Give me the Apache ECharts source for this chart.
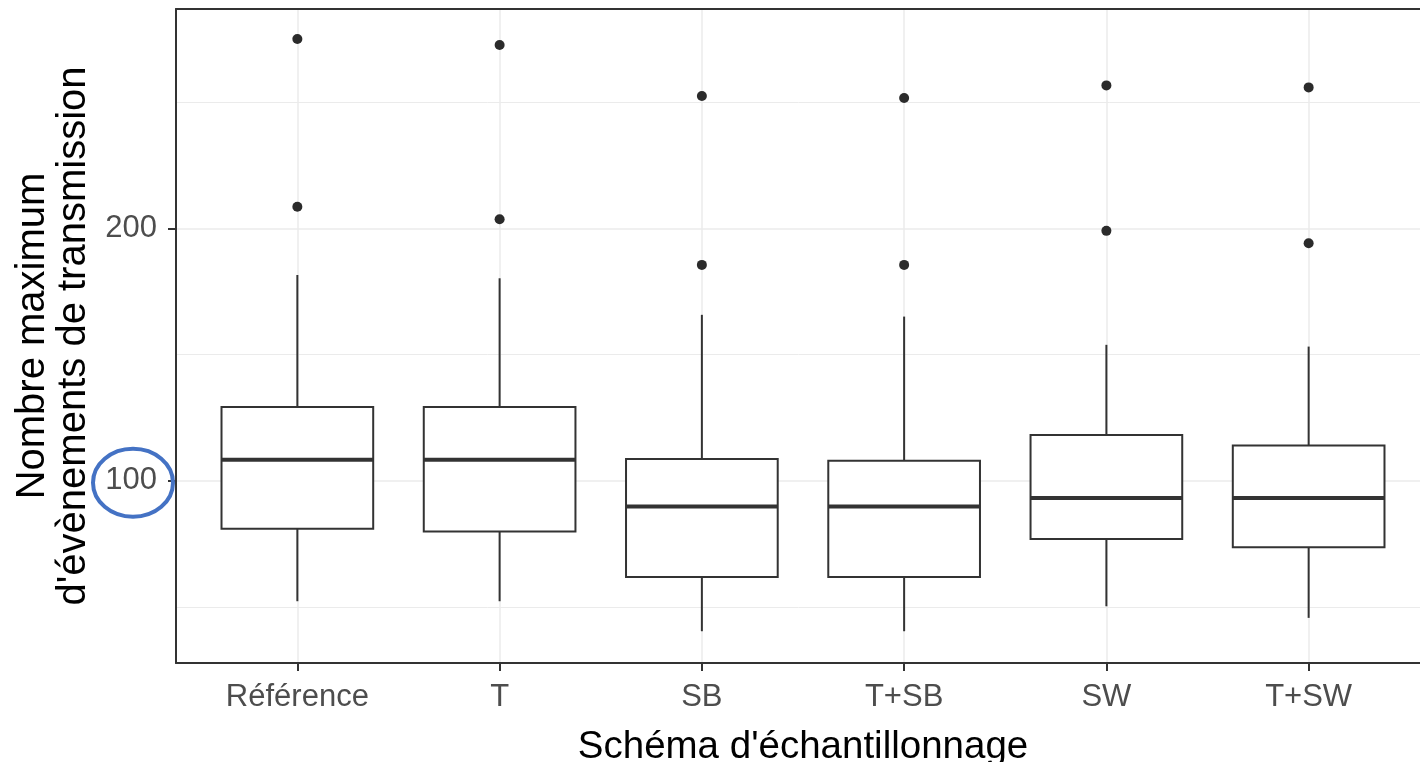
<!DOCTYPE html>
<html><head><meta charset="utf-8">
<script src="https://cdn.jsdelivr.net/npm/echarts@6/dist/echarts.min.js"></script>
<style>html,body{margin:0;padding:0;background:#fff}#c{width:1420px;height:762px}</style>
</head><body><div id="c"></div>
<script>
const categories = ['Référence', 'T', 'SB', 'T+SB', 'SW', 'T+SW'];
const whiskerLow = [52.2, 52.2, 40.3, 40.3, 50.2, 45.6];
const q1 = [80.9, 79.9, 61.8, 61.8, 76.9, 73.6];
const median = [108.3, 108.3, 89.8, 89.8, 93.1, 93.1];
const q3 = [129.2, 129.2, 108.6, 107.9, 118.1, 114.0];
const whiskerHigh = [181.6, 180.3, 165.8, 165.1, 153.9, 153.2];
const outliersMid = [208.7, 203.7, 185.6, 185.6, 199.1, 194.2];
const outliersHigh = [275.2, 272.8, 252.6, 251.8, 256.8, 256.0];
const yTickValues = [100, 200];
const yMinorValues = [50, 150, 250];
const xTickValues = [1, 2, 3, 4, 5, 6];

const FONT = "'Liberation Sans', Arial, sans-serif";
const boxData = categories.map((c, i) => [i + 1, whiskerLow[i], q1[i], median[i], q3[i], whiskerHigh[i]]);
const outData = [];
categories.forEach((c, i) => { outData.push([i + 1, outliersMid[i]]); outData.push([i + 1, outliersHigh[i]]); });

const chart = echarts.init(document.getElementById('c'), null, {renderer: 'canvas'});
const yMin = 27.7, yMax = 287.1;
const border = {show: true, onZero: false, lineStyle: {color: '#333', width: 2}};
chart.setOption({
  animation: false,
  backgroundColor: '#fff',
  grid: {left: 176, top: 9, width: 1254, height: 654, show: false, containLabel: false, outerBoundsMode: 'none'},
  xAxis: [{
    type: 'value', min: 0.4, max: 6.6,
    name: "Schéma d'échantillonnage", nameLocation: 'middle', nameGap: 65,
    nameTextStyle: {fontSize: 38.5, color: '#000', fontFamily: FONT},
    axisLine: border,
    axisTick: {show: true, customValues: xTickValues, length: 8, lineStyle: {color: '#333', width: 2}},
    axisLabel: {customValues: xTickValues, formatter: v => categories[Math.round(v) - 1],
                fontSize: 31, color: '#4d4d4d', fontFamily: FONT, margin: 19},
    splitLine: {show: true, lineStyle: {color: '#ebebeb', width: 1.5}}
  }, {
    type: 'value', min: 0.4, max: 6.6, position: 'top',
    axisLine: border, axisTick: {show: false}, axisLabel: {show: false}, splitLine: {show: false}
  }],
  yAxis: [{
    type: 'value', min: yMin, max: yMax,
    name: "Nombre maximum\nd'évènements de transmission", nameLocation: 'middle', nameRotate: 90, nameGap: 74,
    nameTextStyle: {fontSize: 40, color: '#000', fontFamily: FONT, lineHeight: 41},
    axisLine: border,
    axisTick: {show: true, customValues: yTickValues, length: 8, lineStyle: {color: '#333', width: 2}},
    axisLabel: {customValues: yTickValues, fontSize: 31, color: '#4d4d4d', fontFamily: FONT, margin: 19},
    splitLine: {show: true, lineStyle: {color: '#ebebeb', width: 1.5}}
  }, {
    type: 'value', min: yMin, max: yMax, position: 'left',
    axisLine: {show: false},
    axisTick: {show: false, customValues: yMinorValues},
    axisLabel: {show: false, customValues: yMinorValues},
    splitLine: {show: true, lineStyle: {color: '#ebebeb', width: 1}}
  }],
  series: [{
    type: 'custom',
    data: boxData,
    encode: {x: 0, y: [1, 2, 3, 4, 5]},
    renderItem: function (params, api) {
      const x = api.value(0);
      const lo = api.coord([x, api.value(1)]);
      const b1 = api.coord([x, api.value(2)]);
      const md = api.coord([x, api.value(3)]);
      const b3 = api.coord([x, api.value(4)]);
      const hi = api.coord([x, api.value(5)]);
      const hw = api.size([0.75, 0])[0] / 2;
      const st = {stroke: '#333', lineWidth: 2};
      return {type: 'group', children: [
        {type: 'line', shape: {x1: hi[0], y1: hi[1], x2: b3[0], y2: b3[1]}, style: st},
        {type: 'line', shape: {x1: lo[0], y1: lo[1], x2: b1[0], y2: b1[1]}, style: st},
        {type: 'rect', shape: {x: b3[0] - hw, y: b3[1], width: 2 * hw, height: b1[1] - b3[1]},
         style: {fill: '#fff', stroke: '#333', lineWidth: 2}},
        {type: 'line', shape: {x1: md[0] - hw, y1: md[1], x2: md[0] + hw, y2: md[1]},
         style: {stroke: '#333', lineWidth: 4}}
      ]};
    }
  }, {
    type: 'scatter',
    data: outData,
    symbol: 'circle', symbolSize: 10,
    itemStyle: {color: '#2b2b2b', opacity: 1},
    z: 5
  }]
});

const cy = chart.convertToPixel({yAxisIndex: 0}, 100);
chart.setOption({
  graphic: [{
    type: 'ellipse', shape: {cx: 133, cy: cy + 2, rx: 40, ry: 34},
    style: {fill: 'none', stroke: '#4472c4', lineWidth: 4}, z: 100
  }]
});
</script></body></html>
